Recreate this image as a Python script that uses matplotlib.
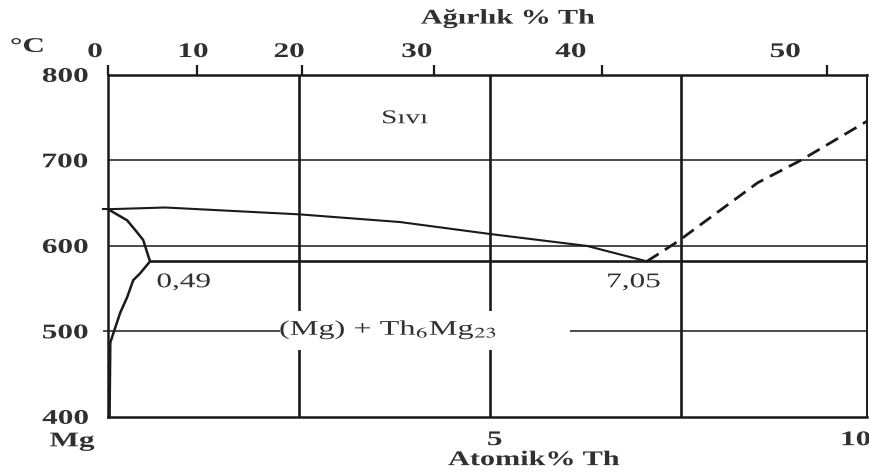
import matplotlib
matplotlib.use('Agg')
import matplotlib.pyplot as plt
import matplotlib.transforms as mtransforms
from matplotlib.textpath import TextPath
from matplotlib.patches import PathPatch, Rectangle
from matplotlib.font_manager import FontProperties

plt.rcParams.update({
    'font.family': ['Liberation Serif', 'DejaVu Serif'],
    'mathtext.fontset': 'stix',
    'axes.linewidth': 1.8,
})

INK = '#1a1a1a'
TXT = '#303030'

# Mg-Th faz diyagramı (Mg tarafı), x: atomik % Th, y: °C
liq_x = [0, 0.75, 2.5, 3.82, 5.0, 6.27, 7.05]
liq_t = [643, 645, 637, 628, 614, 600, 582]

liq_dash_x = [7.05, 7.45, 8.5, 9.06, 9.95]
liq_dash_t = [582, 605, 674, 700, 747]

solidus_x = [0, 0.25, 0.38, 0.46, 0.51, 0.55]
solidus_t = [643, 630, 616, 607, 593, 582]

solvus_x = [0.55, 0.42, 0.33, 0.25, 0.16, 0.07, 0.03, 0.02]
solvus_t = [582, 568, 560, 540, 522, 498, 487, 400]

eutectic_t = 582
eutectic_start = 0.55

# ağırlık % ekseni (üst): tik yerleri ve etiket yerleri atomik % cinsinden
wt_labels = ['0', '10', '20', '30', '40', '50']
wt_tick_pos = [0, 1.17, 2.54, 4.26, 6.46, 9.41]
wt_label_pos = [-0.17, 1.12, 2.37, 4.04, 6.05, 8.86]

at_labels = ['5', '10']
at_label_pos = [5.06, 9.79]
y_ticks = [400, 500, 600, 700, 800]

grid_x = [2.5, 5, 7.5]
grid_t = [600, 700]

fig = plt.figure(figsize=(8.69, 4.74), dpi=100)
ax = fig.add_axes([0.1243, 0.1203, 0.8734, 0.7215])


def wide_text(x, y, s, size=15, weight='normal', sx=1.5, ha='center'):
    """Yatayda genişletilmiş metin (taranmış görüntüdeki gibi)."""
    fp = FontProperties(family='Liberation Serif', weight=weight)
    tp = TextPath((0, 0), s, size=size, prop=fp)
    ext = tp.get_extents()
    ox = {'center': (ext.x0 + ext.x1) / 2, 'left': ext.x0, 'right': ext.x1}[ha]
    oy = (ext.y0 + ext.y1) / 2
    k = fig.dpi / 72
    tr = (mtransforms.Affine2D().translate(-ox, -oy).scale(sx * k, k)
          + mtransforms.ScaledTranslation(x, y, ax.transData))
    fig.add_artist(PathPatch(tp, transform=tr, facecolor=TXT, edgecolor='none',
                             zorder=5))


for s in ax.spines.values():
    s.set_color(INK)
ax.spines['right'].set_linewidth(1.4)

# kılavuz çizgileri
for gx in grid_x:
    ax.axvline(gx, color=INK, lw=1.9, zorder=1)
for gt in grid_t:
    ax.axhline(gt, color=INK, lw=1.1, zorder=1)
ax.hlines(500, -0.07, 2.25, color=INK, lw=1.1, zorder=1, clip_on=False)
ax.hlines(500, 6.05, 9.93, color=INK, lw=1.1, zorder=1)
ax.add_patch(Rectangle((2.3, 478), 2.9, 46, facecolor='white', edgecolor='none', zorder=2))

# faz sınırları
ax.plot(liq_x, liq_t, color=INK, lw=1.5, zorder=3)
ax.plot([-0.07, 0], [643, 643], color=INK, lw=1.5, clip_on=False)
ax.plot(liq_dash_x, liq_dash_t, color=INK, lw=2.0, ls=(0, (5, 2.7)), zorder=3)
ax.plot(solidus_x, solidus_t, color=INK, lw=1.8, zorder=3)
ax.plot(solvus_x, solvus_t, color=INK, lw=1.8, zorder=3)
ax.hlines(eutectic_t, eutectic_start, 9.93, color=INK, lw=1.9, zorder=3)

ax.set_xlim(0, 9.93)
ax.set_ylim(400, 800)
ax.set_xticks([])
ax.set_yticks([])

top = ax.secondary_xaxis('top')
top.set_xticks(wt_tick_pos)
top.set_xticklabels([''] * len(wt_tick_pos))
top.tick_params(length=7, width=1.6, color=INK, direction='out')
for s in top.spines.values():
    s.set_visible(False)

# eksen yazıları
for t in y_ticks:
    wide_text(-0.56, t, str(t), weight='bold')
for lp, lab in zip(wt_label_pos, wt_labels):
    wide_text(lp, 829, lab, weight='bold')
for lp, lab in zip(at_label_pos, at_labels):
    wide_text(lp, 375, lab, weight='bold')

wide_text(5.23, 866, 'Ağırlık % Th', weight='bold', sx=1.45)
wide_text(-1.06, 835, '°C', weight='bold')
wide_text(5.57, 352, 'Atomik% Th', weight='bold', sx=1.45)
wide_text(-0.47, 371, 'Mg', weight='bold')

# bölge ve nokta etiketleri
wide_text(3.89, 751, 'Sıvı', size=14)
wide_text(0.99, 558, '0,49', size=15)
wide_text(6.88, 558, '7,05', size=15)
wide_text(3.66, 502, '(Mg) + Th$_6$Mg$_{23}$', size=15, sx=1.55)

fig.savefig('out.png', dpi=100)
